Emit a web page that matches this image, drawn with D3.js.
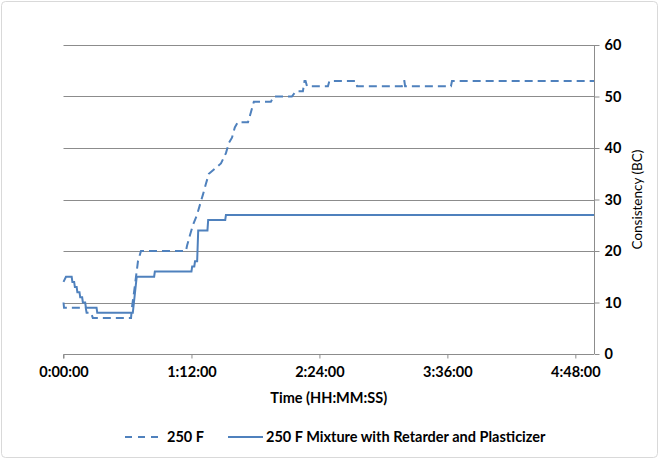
<!DOCTYPE html>
<html>
<head>
	<meta charset="utf-8">
	<title>Consistency</title>
	<script src="https://d3js.org/d3.v7.min.js"></script>
	<style>
		body { margin: 0; background: #fff; }
		text { font-family: Lato, "Open Sans", sans-serif; fill: #000; }
	</style>
</head>
<body>
<script>
	// time in minutes, consistency in BC
	var plainTime  = [0, 0.3, 12.5, 13, 15.5, 16.5, 38, 38.5, 39.7, 40.8, 41.9, 43.6, 68.9, 69.5, 71.1, 72.8, 75.1, 76.8, 78.5, 80.1, 81.8, 85.2, 88.6, 91.4, 93.1, 94.8, 96.4, 98.1, 103.8, 105.5, 107.1, 116.7, 118.4, 128.5, 130.8, 134.7, 135.6, 136.2, 137, 148.8, 149.6, 164.5, 165.2, 190.4, 190.8, 191.8, 192.2, 218, 218.6, 298.5];
	var plainValue = [10, 9, 9, 8, 8, 7, 7, 9, 12, 15, 18, 20, 20, 21, 23, 25, 27, 29, 31, 33, 35, 36, 37, 39, 41, 42, 44, 45, 45, 47, 49, 49, 50, 50, 51, 51, 53, 53, 52, 52, 53, 53, 52, 52, 53, 53, 52, 52, 53, 53];

	var mixTime  = [0, 1.4, 4.6, 5, 6, 6.4, 7.4, 7.8, 9, 9.4, 10.5, 10.9, 12.2, 12.6, 18.6, 19, 39, 41.2, 51, 51.4, 72, 72.4, 73.6, 74, 75.2, 75.8, 81, 81.4, 91, 91.4, 298.5];
	var mixValue = [14, 15, 15, 14, 14, 13, 13, 12, 12, 11, 11, 10, 10, 9, 9, 8, 8, 15, 15, 16, 16, 17, 17, 18, 18, 24, 24, 26, 26, 27, 27];

	var seriesNames = ["250 F", "250 F Mixture with Retarder and Plasticizer"];
	var xTicks = [0, 72, 144, 216, 288];
	var xTickLabels = ["0:00:00", "1:12:00", "2:24:00", "3:36:00", "4:48:00"];
	var yTicks = [0, 10, 20, 30, 40, 50, 60];

	var svgWidth = 659, svgHeight = 459;
	var blue = "#4f81bd", grid = "#8c8c8c";
	var fs = "14.5px";

	var svg = d3.select("body").append("svg")
		.attr("width", svgWidth)
		.attr("height", svgHeight);

	// outer frame
	svg.append("rect")
		.attr("x", 1.5).attr("y", 1.5)
		.attr("width", svgWidth - 3).attr("height", svgHeight - 3)
		.attr("rx", 4)
		.attr("fill", "#fff")
		.attr("stroke", "#d9d9d9");

	var x = d3.scaleLinear().domain([0, 298.5]).range([63.5, 594]);
	var y = d3.scaleLinear().domain([0, 60]).range([354, 45]);

	// gridlines
	svg.append("g")
		.selectAll("line")
		.data(yTicks.slice(1))
		.enter().append("line")
		.attr("x1", x(0)).attr("x2", x.range()[1])
		.attr("y1", function(d) { return Math.round(y(d)) + 0.5; })
		.attr("y2", function(d) { return Math.round(y(d)) + 0.5; })
		.attr("stroke", grid);

	// x axis
	var xAxis = d3.axisBottom(x)
		.tickValues(xTicks)
		.tickFormat(function(d, i) { return xTickLabels[i]; })
		.tickSize(4)
		.tickPadding(8);

	var gx = svg.append("g")
		.attr("transform", "translate(0," + (Math.round(y(0)) + 0.5) + ")")
		.call(xAxis);
	gx.select(".domain").attr("stroke", grid).attr("d", "M" + x(0) + ",4V0H" + x.range()[1]);
	gx.selectAll(".tick line").attr("stroke", grid);
	gx.selectAll(".tick text")
		.style("font-size", fs).style("font-weight", "bold");

	// y axis on the right
	var yAxis = d3.axisRight(y)
		.tickValues(yTicks)
		.tickSize(5)
		.tickPadding(5);

	var gy = svg.append("g")
		.attr("transform", "translate(" + (x.range()[1] + 0.5) + ",0)")
		.call(yAxis);
	gy.select(".domain").attr("stroke", grid).attr("d", "M0," + y(60) + "V" + y(0));
	gy.selectAll(".tick line").attr("stroke", grid);
	gy.selectAll(".tick text")
		.style("font-size", fs).style("font-weight", "bold");

	// axis titles
	svg.append("text")
		.attr("x", (x.range()[0] + x.range()[1]) / 2)
		.attr("y", 403)
		.attr("text-anchor", "middle")
		.style("font-size", fs).style("font-weight", "bold")
		.text("Time (HH:MM:SS)");

	svg.append("text")
		.attr("transform", "translate(642," + (y(30)) + ") rotate(-90)")
		.attr("text-anchor", "middle")
		.style("font-size", "13.5px")
		.text("Consistency (BC)");

	// series
	var line = d3.line()
		.x(function(d) { return x(d[0]); })
		.y(function(d) { return y(d[1]); });

	var plain = d3.zip(plainTime, plainValue);
	var mix = d3.zip(mixTime, mixValue);

	svg.append("path")
		.datum(plain)
		.attr("fill", "none")
		.attr("stroke", blue)
		.attr("stroke-width", 2)
		.attr("stroke-dasharray", "8,5")
		.attr("d", line);

	svg.append("path")
		.datum(mix)
		.attr("fill", "none")
		.attr("stroke", blue)
		.attr("stroke-width", 2)
		.attr("d", line);

	// legend
	var legend = svg.append("g").attr("transform", "translate(0,437)");

	legend.append("line")
		.attr("x1", 125).attr("x2", 160)
		.attr("stroke", blue).attr("stroke-width", 2)
		.attr("stroke-dasharray", "7,6");
	legend.append("text")
		.attr("x", 167).attr("dy", "0.35em")
		.style("font-size", fs).style("font-weight", "bold")
		.text(seriesNames[0]);

	legend.append("line")
		.attr("x1", 228).attr("x2", 263)
		.attr("stroke", blue).attr("stroke-width", 2);
	legend.append("text")
		.attr("x", 266).attr("dy", "0.35em")
		.style("font-size", fs).style("font-weight", "bold")
		.text(seriesNames[1]);
</script>
</body>
</html>
